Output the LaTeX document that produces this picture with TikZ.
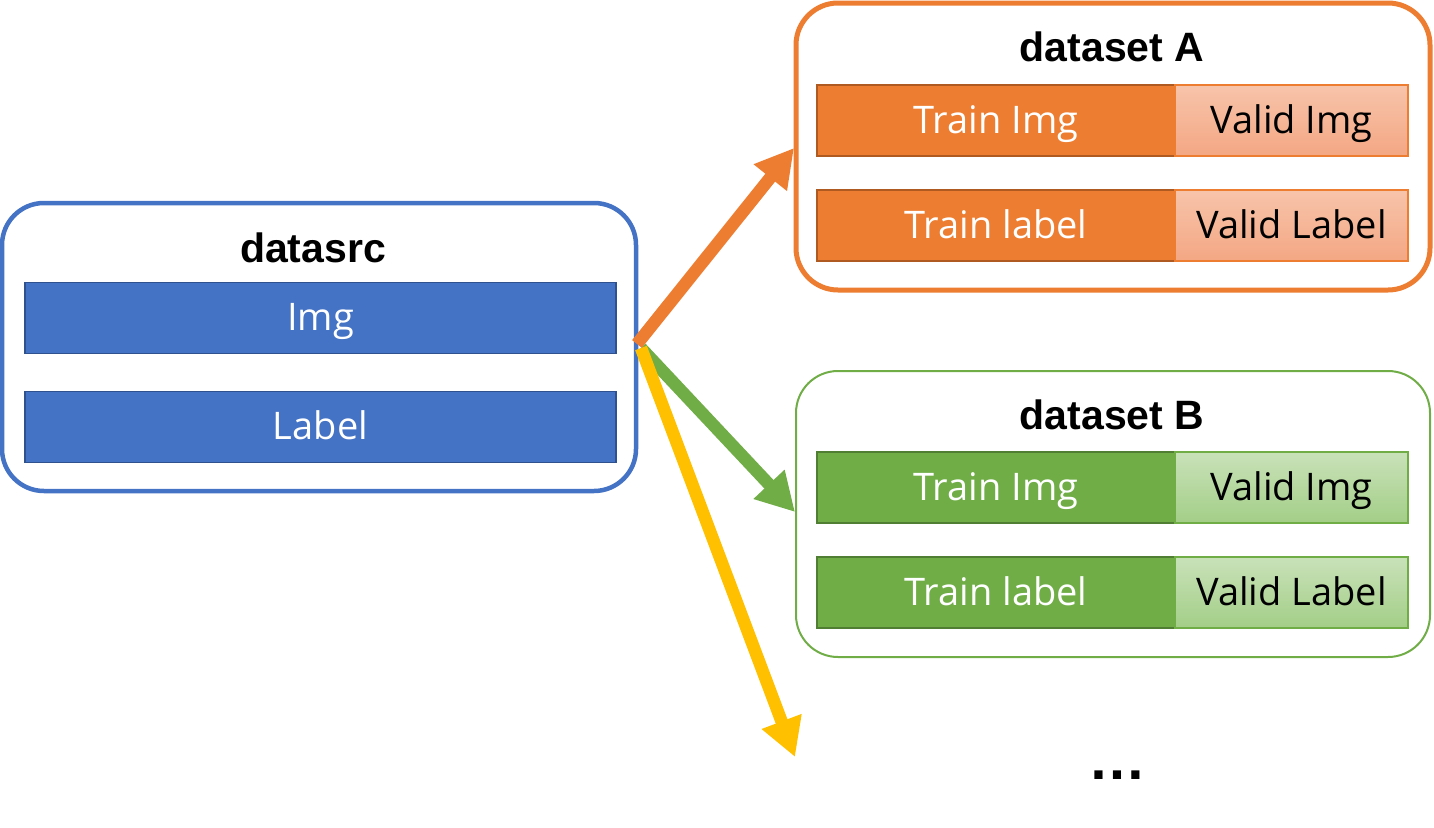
\documentclass[tikz,border=0pt]{standalone}
\usepackage{fontspec}
\setmainfont{Open Sans}
\newfontfamily\titlefont{Liberation Sans}
\usetikzlibrary{arrows.meta}
\definecolor{cblue}{HTML}{4472C4}
\definecolor{cbluedk}{HTML}{2F528F}
\definecolor{corange}{HTML}{ED7D31}
\definecolor{corangedk}{HTML}{AE5A21}
\definecolor{corangelt}{HTML}{F7C4AB}
\definecolor{corangemd}{HTML}{F4A783}
\definecolor{cgreen}{HTML}{70AD47}
\definecolor{cgreendk}{HTML}{507E32}
\definecolor{cgreenlt}{HTML}{C9E2B9}
\definecolor{cgreenmd}{HTML}{A3CE87}
\definecolor{cyellow}{HTML}{FFC000}
\tikzset{
  outer/.style={draw, rounded corners=42pt, inner sep=0pt, minimum width=634pt},
  title/.style={font=\titlefont\bfseries\fontsize{41}{45}\selectfont, inner sep=0pt},
  bar/.style={inner sep=0pt, minimum height=71pt, line width=1.8pt, font=\fontsize{38}{40}\selectfont, text depth=10pt, text height=35pt},
  trainA/.style={bar, fill=corange, draw=corangedk, text=white, minimum width=358pt},
  validA/.style={bar, top color=corangelt, bottom color=corangemd, draw=corange, line width=1.2pt, text=black, minimum width=233pt},
  trainB/.style={bar, fill=cgreen, draw=cgreendk, text=white, minimum width=358pt},
  validB/.style={bar, top color=cgreenlt, bottom color=cgreenmd, draw=cgreen, line width=1.2pt, text=black, minimum width=233pt},
  srcbar/.style={bar, fill=cblue, draw=cbluedk, text=white, minimum width=591pt},
  flow/.style={line width=12.5pt, -{Triangle[length=38pt,width=40pt]}},
}
\begin{document}
\begin{tikzpicture}[x=1pt,y=-1pt]
\useasboundingbox (0,0) rectangle (1434,827);
% datasrc
\node[outer, draw=cblue, line width=4.5pt, minimum height=288pt] (src) at (319,347) {};
\node[title] (srct) at (313,248) {datasrc};
\node[srcbar] (img) at (320.5,318) {Img};
\node[srcbar] (lab) at (320.5,427) {Label};
% dataset A
\node[outer, draw=corange, line width=5pt, minimum height=287pt] (A) at (1113,146.5) {};
\node[title] (At) at (1112,47) {dataset A};
\node[trainA] (Ati) at (996,120.5) {Train Img};
\node[validA] (Avi) at (1291.5,120.5) {Valid Img};
\node[trainA] (Atl) at (996,225.5) {Train label};
\node[validA] (Avl) at (1291.5,225.5) {Valid Label};
% dataset B
\node[outer, draw=cgreen, line width=2pt, minimum height=286pt] (B) at (1113,514) {};
\node[title] (Bt) at (1112,415) {dataset B};
\node[trainB] (Bti) at (996,487.5) {Train Img};
\node[validB] (Bvi) at (1291.5,487.5) {Valid Img};
\node[trainB] (Btl) at (996,592.5) {Train label};
\node[validB] (Bvl) at (1291.5,592.5) {Valid Label};
% dots
\node[inner sep=0pt, anchor=base, font=\titlefont\bfseries\fontsize{58}{60}\selectfont] (dots) at (1117,779) {…};
% arrows
\coordinate (o1) at (637,344);
\coordinate (o2) at (641,348);
\coordinate (ta) at (794,148);
\coordinate (tb) at (795,512);
\coordinate (tc) at (795,757);
\draw[flow, draw=cgreen, fill=cgreen] (o2) -- (tb);
\draw[flow, draw=corange, fill=corange] (o1) -- (ta);
\draw[flow, draw=cyellow, fill=cyellow] (o2) -- (tc);
\end{tikzpicture}
\end{document}
